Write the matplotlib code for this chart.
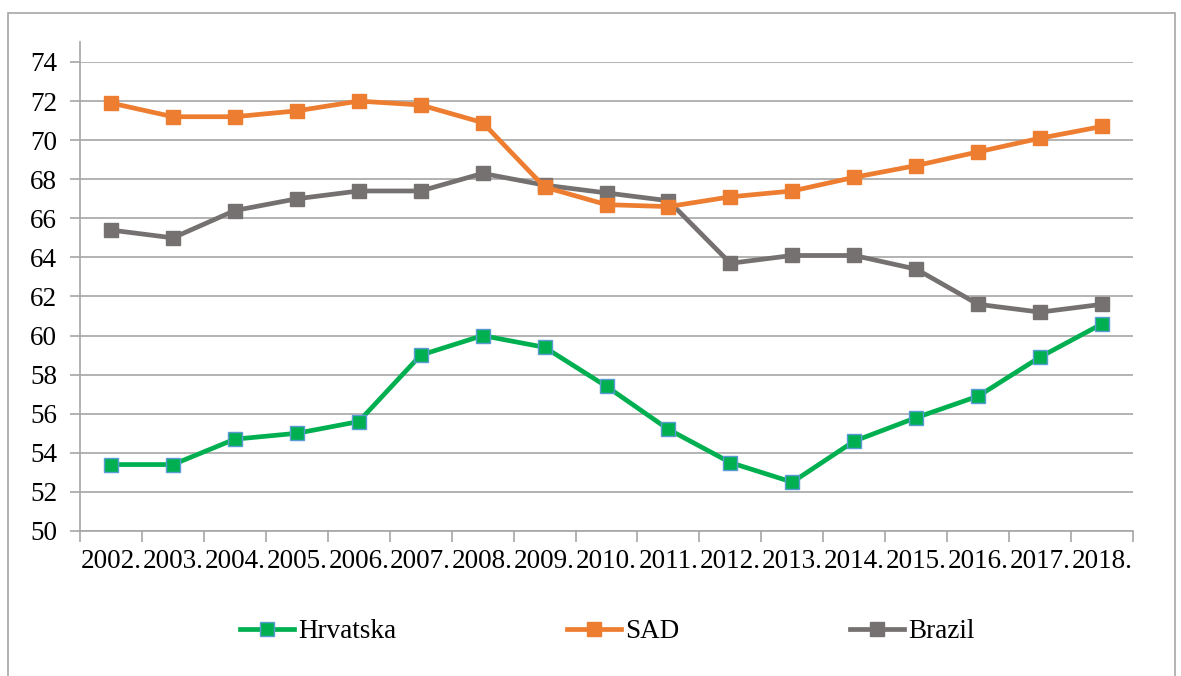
import matplotlib.pyplot as plt
from matplotlib.patches import Rectangle

years = ['2002.', '2003.', '2004.', '2005.', '2006.', '2007.', '2008.', '2009.', '2010.',
         '2011.', '2012.', '2013.', '2014.', '2015.', '2016.', '2017.', '2018.']
hrvatska = [53.4, 53.4, 54.7, 55.0, 55.6, 59.0, 60.0, 59.4, 57.4, 55.2, 53.5, 52.5, 54.6, 55.8, 56.9, 58.9, 60.6]
sad = [71.9, 71.2, 71.2, 71.5, 72.0, 71.8, 70.9, 67.6, 66.7, 66.6, 67.1, 67.4, 68.1, 68.7, 69.4, 70.1, 70.7]
brazil = [65.4, 65.0, 66.4, 67.0, 67.4, 67.4, 68.3, 67.7, 67.3, 66.9, 63.7, 64.1, 64.1, 63.4, 61.6, 61.2, 61.6]
y_ticks = list(range(50, 76, 2))

plt.rcParams['font.family'] = 'serif'
plt.rcParams['font.serif'] = ['Liberation Serif', 'Times New Roman', 'DejaVu Serif']

fig = plt.figure(figsize=(11.81, 6.76), dpi=100)
# outer chart frame
fig.patches.append(Rectangle((8 / 1181, -0.01), 1167 / 1181, 1 - 13 / 676 + 0.01,
                             transform=fig.transFigure, fill=False, edgecolor='#a6a6a6', lw=1.2))

ax = fig.add_axes([80 / 1181, 145 / 676, 1053 / 1181, 469 / 676])
x = list(range(len(years)))

ax.plot(x, hrvatska, color='#00b050', lw=3.4, marker='s', ms=9.5, mfc='#00b050', mec='#5b9bd5', mew=1, label='Hrvatska', zorder=5)
ax.plot(x, sad, color='#ed7d31', lw=3.4, marker='s', ms=9.5, mfc='#ed7d31', mec='#ed7d31', label='SAD', zorder=4)
ax.plot(x, brazil, color='#767171', lw=3.4, marker='s', ms=9.5, mfc='#767171', mec='#767171', label='Brazil', zorder=3)

ax.set_xlim(-0.5, len(years) - 0.5)
ax.set_ylim(50, 74)
ax.set_yticks([t for t in y_ticks if t <= 74])
ax.set_xticks(x)
ax.set_xticklabels(years)
ax.set_xticks([i - 0.5 for i in range(len(years) + 1)], minor=True)
ax.tick_params(axis='x', which='major', length=0, pad=13, labelsize=19.5)
ax.tick_params(axis='x', which='minor', length=8, color='#a6a6a6', width=1.2)
ax.tick_params(axis='y', length=7, color='#a6a6a6', width=1.2, pad=9.5, labelsize=19.5)

ax.grid(axis='y', color='#a6a6a6', lw=1.2)
ax.set_axisbelow(True)
for s in ['top', 'right']:
    ax.spines[s].set_visible(False)
ax.spines['left'].set_color('#a6a6a6')
ax.spines['bottom'].set_color('#a6a6a6')
ax.spines['left'].set_linewidth(1.2)
ax.spines['bottom'].set_linewidth(1.2)
ax.spines['left'].set_bounds(50, 75)

fig.legend(loc='center', bbox_to_anchor=(607 / 1181, 1 - 632 / 676), ncol=3, frameon=False,
           fontsize=19.5, handlelength=2.0, handletextpad=0.15, columnspacing=6.3)

fig.savefig('out.png', dpi=100)
